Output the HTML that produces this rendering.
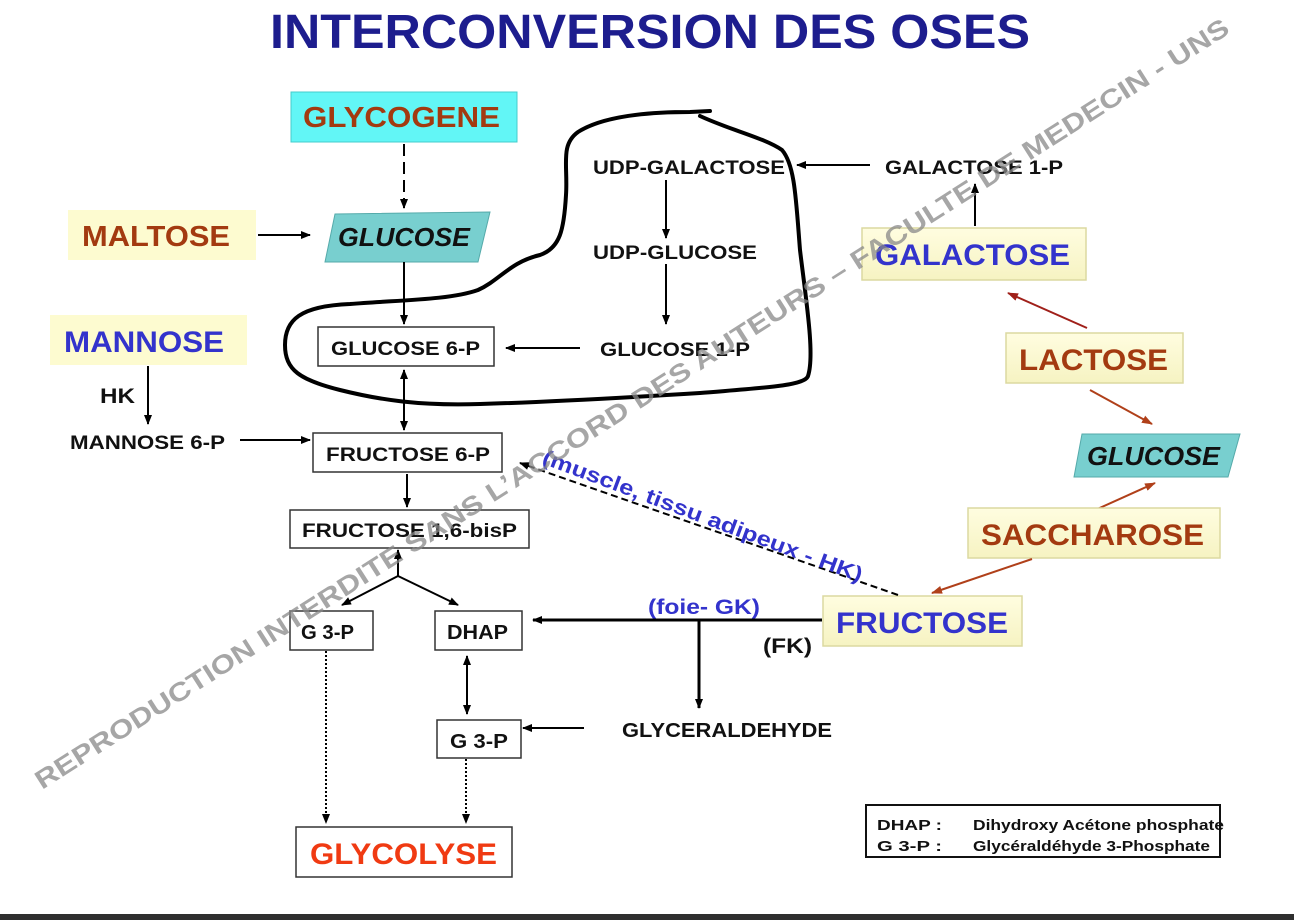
<!DOCTYPE html>
<html><head><meta charset="utf-8"><style>
html,body{margin:0;padding:0;background:#fff;}
svg{display:block;font-family:"Liberation Sans",Arial,sans-serif;font-weight:bold;}
</style></head><body>
<svg width="1294" height="920" viewBox="0 0 1294 920" xmlns="http://www.w3.org/2000/svg">
<defs>
<marker id="a" markerWidth="10" markerHeight="10" refX="9" refY="5" orient="auto" markerUnits="userSpaceOnUse"><path d="M0,1 L10,5 L0,9 Z" fill="#000"/></marker>
<marker id="as" markerWidth="10" markerHeight="10" refX="1" refY="5" orient="auto" markerUnits="userSpaceOnUse"><path d="M10,1 L0,5 L10,9 Z" fill="#000"/></marker>
<marker id="r" markerWidth="12" markerHeight="10" refX="10" refY="5" orient="auto" markerUnits="userSpaceOnUse"><path d="M0,1 L11,5 L0,9 Z" fill="#a0201a"/></marker>
<marker id="o" markerWidth="12" markerHeight="10" refX="10" refY="5" orient="auto" markerUnits="userSpaceOnUse"><path d="M0,1 L11,5 L0,9 Z" fill="#b0401a"/></marker>
<linearGradient id="y" x1="0" y1="0" x2="0" y2="1"><stop offset="0" stop-color="#fffde0"/><stop offset="1" stop-color="#f6f3c2"/></linearGradient>
</defs>
<rect x="0" y="0" width="1294" height="920" fill="#fff"/>
<text x="270" y="48" font-size="48" fill="#1d1d8e" textLength="760" lengthAdjust="spacingAndGlyphs">INTERCONVERSION DES OSES</text>

<!-- blob -->
<path d="M710 111 L690 112 C640 112 600 118 578 132 C560 145 568 165 566 195 C564 230 560 248 540 255 C510 262 500 280 478 290 C450 300 400 300 350 304 C300 306 285 320 285 345 C285 370 300 380 340 390 C380 400 420 406 480 404 C550 402 620 398 700 393 C760 388 805 386 808 376 C815 355 806 300 800 250 C796 200 795 165 782 150 C765 138 730 130 700 116" fill="none" stroke="#000" stroke-width="4" stroke-linecap="round"/>

<!-- GLYCOGENE -->
<rect x="291" y="92" width="226" height="50" fill="#62f6f6" stroke="#4cc" stroke-width="1"/>
<text x="303" y="127" font-size="29" fill="#a33a10" textLength="197" lengthAdjust="spacingAndGlyphs">GLYCOGENE</text>
<line x1="404" y1="144" x2="404" y2="208" stroke="#000" stroke-width="2" stroke-dasharray="12,6" marker-end="url(#a)"/>

<!-- GLUCOSE left -->
<path d="M335 214 L490 212 L478 262 L325 262 Z" fill="#78cfcf" stroke="#5aa" stroke-width="1"/>
<text x="338" y="246" font-size="26" fill="#111" font-style="italic" textLength="132" lengthAdjust="spacingAndGlyphs">GLUCOSE</text>

<!-- MALTOSE -->
<rect x="68" y="210" width="188" height="50" fill="#fdfbd0"/>
<text x="82" y="246" font-size="29" fill="#a33a10" textLength="148" lengthAdjust="spacingAndGlyphs">MALTOSE</text>
<line x1="258" y1="235" x2="310" y2="235" stroke="#000" stroke-width="2" marker-end="url(#a)"/>

<!-- MANNOSE -->
<rect x="50" y="315" width="197" height="50" fill="#fdfbd0"/>
<text x="64" y="352" font-size="30" fill="#3333cc" textLength="160" lengthAdjust="spacingAndGlyphs">MANNOSE</text>
<text x="100" y="403" font-size="21" fill="#111" textLength="35" lengthAdjust="spacingAndGlyphs">HK</text>
<line x1="148" y1="366" x2="148" y2="424" stroke="#000" stroke-width="2" marker-end="url(#a)"/>
<text x="70" y="449" font-size="19" fill="#111" textLength="155" lengthAdjust="spacingAndGlyphs">MANNOSE 6-P</text>
<line x1="240" y1="440" x2="310" y2="440" stroke="#000" stroke-width="2" marker-end="url(#a)"/>

<!-- G6P -->
<line x1="404" y1="262" x2="404" y2="324" stroke="#000" stroke-width="2" marker-end="url(#a)"/>
<rect x="318" y="327" width="176" height="39" fill="#fff" stroke="#333" stroke-width="1.5"/>
<text x="331" y="355" font-size="19" fill="#111" textLength="149" lengthAdjust="spacingAndGlyphs">GLUCOSE 6-P</text>
<line x1="580" y1="348" x2="506" y2="348" stroke="#000" stroke-width="2" marker-end="url(#a)"/>
<text x="600" y="356" font-size="19" fill="#111" textLength="150" lengthAdjust="spacingAndGlyphs">GLUCOSE 1-P</text>
<text x="593" y="174" font-size="19" fill="#111" textLength="192" lengthAdjust="spacingAndGlyphs">UDP-GALACTOSE</text>
<line x1="870" y1="165" x2="797" y2="165" stroke="#000" stroke-width="2" marker-end="url(#a)"/>
<text x="885" y="174" font-size="19" fill="#111" textLength="178" lengthAdjust="spacingAndGlyphs">GALACTOSE 1-P</text>
<text x="593" y="259" font-size="19" fill="#111" textLength="164" lengthAdjust="spacingAndGlyphs">UDP-GLUCOSE</text>
<line x1="666" y1="180" x2="666" y2="238" stroke="#000" stroke-width="2" marker-end="url(#a)"/>
<line x1="666" y1="264" x2="666" y2="324" stroke="#000" stroke-width="2" marker-end="url(#a)"/>

<!-- GALACTOSE -->
<line x1="975" y1="226" x2="975" y2="184" stroke="#000" stroke-width="2" marker-end="url(#a)"/>
<rect x="862" y="228" width="224" height="52" fill="url(#y)" stroke="#dcd9a0" stroke-width="1.5"/>
<text x="875" y="265" font-size="30" fill="#3333cc" textLength="195" lengthAdjust="spacingAndGlyphs">GALACTOSE</text>

<line x1="1087" y1="328" x2="1008" y2="293" stroke="#a0201a" stroke-width="2" marker-end="url(#r)"/>
<rect x="1006" y="333" width="177" height="50" fill="url(#y)" stroke="#dcd9a0" stroke-width="1.5"/>
<text x="1019" y="370" font-size="30" fill="#a33a10" textLength="149" lengthAdjust="spacingAndGlyphs">LACTOSE</text>
<line x1="1090" y1="390" x2="1152" y2="424" stroke="#b0401a" stroke-width="2" marker-end="url(#o)"/>

<path d="M1082 434 L1240 434 L1228 477 L1074 477 Z" fill="#78cfcf" stroke="#5aa" stroke-width="1"/>
<text x="1087" y="465" font-size="26" fill="#111" font-style="italic" textLength="133" lengthAdjust="spacingAndGlyphs">GLUCOSE</text>

<line x1="1093" y1="511" x2="1155" y2="483" stroke="#b0401a" stroke-width="2" marker-end="url(#o)"/>
<rect x="968" y="508" width="252" height="50" fill="url(#y)" stroke="#dcd9a0" stroke-width="1.5"/>
<text x="981" y="545" font-size="30" fill="#a33a10" textLength="223" lengthAdjust="spacingAndGlyphs">SACCHAROSE</text>
<line x1="1032" y1="559" x2="932" y2="593" stroke="#b0401a" stroke-width="2" marker-end="url(#o)"/>

<!-- FRUCTOSE -->
<rect x="823" y="596" width="199" height="50" fill="url(#y)" stroke="#dcd9a0" stroke-width="1.5"/>
<text x="836" y="633" font-size="30" fill="#3333cc" textLength="172" lengthAdjust="spacingAndGlyphs">FRUCTOSE</text>
<line x1="898" y1="595" x2="520" y2="463" stroke="#000" stroke-width="2" stroke-dasharray="7,4" marker-end="url(#a)"/>
<text transform="translate(541,463) rotate(20.5)" font-size="21" fill="#3333cc" textLength="340" lengthAdjust="spacingAndGlyphs">(muscle, tissu adipeux - HK)</text>

<!-- F6P -->
<line x1="404" y1="370" x2="404" y2="430" stroke="#000" stroke-width="2" marker-start="url(#as)" marker-end="url(#a)"/>
<rect x="313" y="433" width="189" height="39" fill="#fff" stroke="#333" stroke-width="1.5"/>
<text x="326" y="461" font-size="19" fill="#111" textLength="164" lengthAdjust="spacingAndGlyphs">FRUCTOSE 6-P</text>
<line x1="407" y1="474" x2="407" y2="507" stroke="#000" stroke-width="2" marker-end="url(#a)"/>
<rect x="290" y="510" width="239" height="38" fill="#fff" stroke="#333" stroke-width="1.5"/>
<text x="302" y="537" font-size="19" fill="#111" textLength="215" lengthAdjust="spacingAndGlyphs">FRUCTOSE 1,6-bisP</text>

<line x1="398" y1="576" x2="398" y2="550" stroke="#000" stroke-width="2" marker-end="url(#a)"/>
<line x1="398" y1="576" x2="342" y2="605" stroke="#000" stroke-width="2" marker-end="url(#a)"/>
<line x1="398" y1="576" x2="458" y2="605" stroke="#000" stroke-width="2" marker-end="url(#a)"/>

<rect x="290" y="611" width="83" height="39" fill="#fff" stroke="#333" stroke-width="1.5"/>
<text x="301" y="639" font-size="20" fill="#111" textLength="53" lengthAdjust="spacingAndGlyphs">G 3-P</text>
<rect x="435" y="611" width="87" height="39" fill="#fff" stroke="#333" stroke-width="1.5"/>
<text x="447" y="639" font-size="20" fill="#111" textLength="61" lengthAdjust="spacingAndGlyphs">DHAP</text>

<line x1="822" y1="620" x2="533" y2="620" stroke="#000" stroke-width="3" marker-end="url(#a)"/>
<text x="648" y="614" font-size="21" fill="#3333cc" textLength="112" lengthAdjust="spacingAndGlyphs">(foie- GK)</text>
<text x="763" y="653" font-size="21" fill="#111" textLength="49" lengthAdjust="spacingAndGlyphs">(FK)</text>
<line x1="699" y1="621" x2="699" y2="708" stroke="#000" stroke-width="3" marker-end="url(#a)"/>
<text x="622" y="737" font-size="20" fill="#111" textLength="210" lengthAdjust="spacingAndGlyphs">GLYCERALDEHYDE</text>
<line x1="584" y1="728" x2="523" y2="728" stroke="#000" stroke-width="2" marker-end="url(#a)"/>

<line x1="467" y1="656" x2="467" y2="714" stroke="#000" stroke-width="2" marker-start="url(#as)" marker-end="url(#a)"/>
<rect x="437" y="720" width="84" height="38" fill="#fff" stroke="#333" stroke-width="1.5"/>
<text x="450" y="748" font-size="20" fill="#111" textLength="58" lengthAdjust="spacingAndGlyphs">G 3-P</text>

<line x1="326" y1="651" x2="326" y2="823" stroke="#000" stroke-width="2" stroke-dasharray="2,2" marker-end="url(#a)"/>
<line x1="466" y1="759" x2="466" y2="823" stroke="#000" stroke-width="2" stroke-dasharray="2,2" marker-end="url(#a)"/>
<rect x="296" y="827" width="216" height="50" fill="#fff" stroke="#333" stroke-width="1.5"/>
<text x="310" y="864" font-size="30" fill="#f03a12" textLength="187" lengthAdjust="spacingAndGlyphs">GLYCOLYSE</text>

<!-- legend -->
<rect x="866" y="805" width="354" height="52" fill="#fff" stroke="#111" stroke-width="2"/>
<text x="877" y="830" font-size="15" fill="#111" textLength="65" lengthAdjust="spacingAndGlyphs">DHAP  :</text>
<text x="877" y="851" font-size="15" fill="#111" textLength="65" lengthAdjust="spacingAndGlyphs">G 3-P  :</text>
<text x="973" y="830" font-size="15" fill="#111" textLength="251" lengthAdjust="spacingAndGlyphs">Dihydroxy Acétone phosphate</text>
<text x="973" y="851" font-size="15" fill="#111" textLength="237" lengthAdjust="spacingAndGlyphs">Glycéraldéhyde 3-Phosphate</text>

<!-- watermark -->
<text transform="translate(42,790) rotate(-32.5)" font-size="26" fill="#888" fill-opacity="0.75" textLength="1410" lengthAdjust="spacingAndGlyphs">REPRODUCTION INTERDITE SANS L’ACCORD DES AUTEURS – FACULTE DE MEDECIN - UNS</text>

<rect x="0" y="914" width="1294" height="6" fill="#2f2f2f"/>
</svg>
</body></html>
